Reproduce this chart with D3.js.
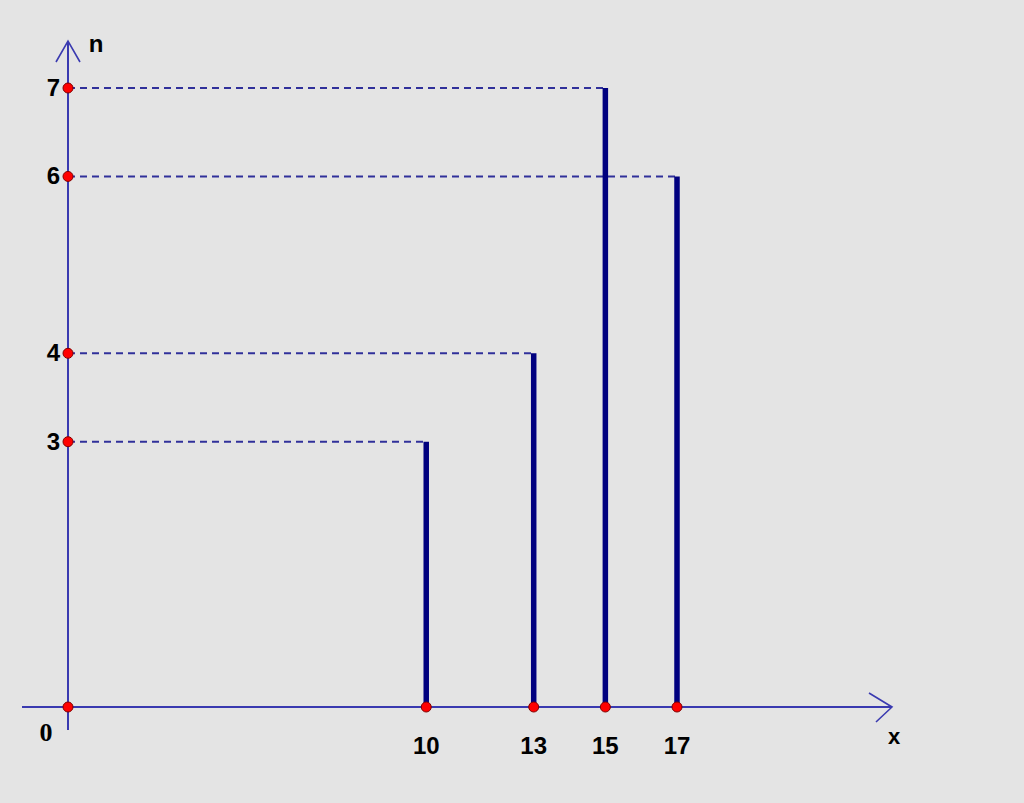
<!DOCTYPE html>
<html><head><meta charset="utf-8">
<script src="https://cdn.jsdelivr.net/npm/d3@7"></script>
<style>html,body{margin:0;padding:0;background:#e4e4e4;}svg{display:block;}</style>
</head><body>
<svg id="c" width="1024" height="803"></svg>
<script>
const xValues = [10, 13, 15, 17];
const nValues = [3, 4, 7, 6];
const yTickLabels = [3, 4, 6, 7];
const xAxisName = "x";
const yAxisName = "n";

const svg = d3.select("#c");
svg.append("rect").attr("width",1024).attr("height",803).attr("fill","#e4e4e4");
const x = d3.scaleLinear().domain([0,17]).range([68,677]);
const y = d3.scaleLinear().domain([0,7]).range([707,88]);
const axisColor = "#3a3ab0";
const font = "'Liberation Sans', Arial, sans-serif";

// dashed guide lines
svg.selectAll("line.guide").data(xValues).enter().append("line")
  .attr("x1", x(0)).attr("x2", d=>x(d))
  .attr("y1", (d,i)=>y(nValues[i])).attr("y2", (d,i)=>y(nValues[i]))
  .attr("stroke","#30309a").attr("stroke-width",2).attr("stroke-dasharray","7,5");

// axes
svg.append("line").attr("x1",22).attr("x2",892).attr("y1",y(0)).attr("y2",y(0))
  .attr("stroke",axisColor).attr("stroke-width",2);
svg.append("line").attr("x1",x(0)).attr("x2",x(0)).attr("y1",42).attr("y2",730)
  .attr("stroke",axisColor).attr("stroke-width",2);
// arrowheads
svg.append("path").attr("d",`M869,693 L892,${y(0)} L876,722`).attr("fill","none")
  .attr("stroke",axisColor).attr("stroke-width",1.6);
svg.append("path").attr("d",`M56,62 L${x(0)},41 L80,62`).attr("fill","none")
  .attr("stroke",axisColor).attr("stroke-width",1.6);

// bars
svg.selectAll("line.bar").data(xValues).enter().append("line")
  .attr("x1", d=>x(d)).attr("x2", d=>x(d))
  .attr("y1", y(0)).attr("y2", (d,i)=>y(nValues[i]))
  .attr("stroke","#00007f").attr("stroke-width",5.5);

// dots
const dots = [[0,0]].concat(xValues.map(d=>[d,0])).concat(yTickLabels.map(v=>[0,v]));
svg.selectAll("circle").data(dots).enter().append("circle")
  .attr("cx", d=>x(d[0])).attr("cy", d=>y(d[1])).attr("r",5)
  .attr("fill","#ff0000").attr("stroke","#800000").attr("stroke-width",1);

// y tick labels
svg.selectAll("text.yt").data(yTickLabels).enter().append("text")
  .attr("x",60).attr("y",d=>y(d)+8).attr("text-anchor","end")
  .attr("font-family",font).attr("font-weight","bold").attr("font-size",24)
  .attr("fill","#000").text(d=>d);
// x tick labels
svg.selectAll("text.xt").data(xValues).enter().append("text")
  .attr("x",d=>x(d)).attr("y",754).attr("text-anchor","middle")
  .attr("font-family",font).attr("font-weight","bold").attr("font-size",24)
  .attr("fill","#000").text(d=>d);
// origin
svg.append("text").attr("x",46).attr("y",741).attr("text-anchor","middle")
  .attr("font-family","'Liberation Serif', serif").attr("font-weight","bold").attr("font-size",26)
  .text("0");
svg.append("text").attr("x",894).attr("y",744).attr("text-anchor","middle")
  .attr("font-family",font).attr("font-weight","bold").attr("font-size",22).text(xAxisName);
svg.append("text").attr("x",96).attr("y",52).attr("text-anchor","middle")
  .attr("font-family",font).attr("font-weight","bold").attr("font-size",24).text(yAxisName);
</script>
</body></html>
